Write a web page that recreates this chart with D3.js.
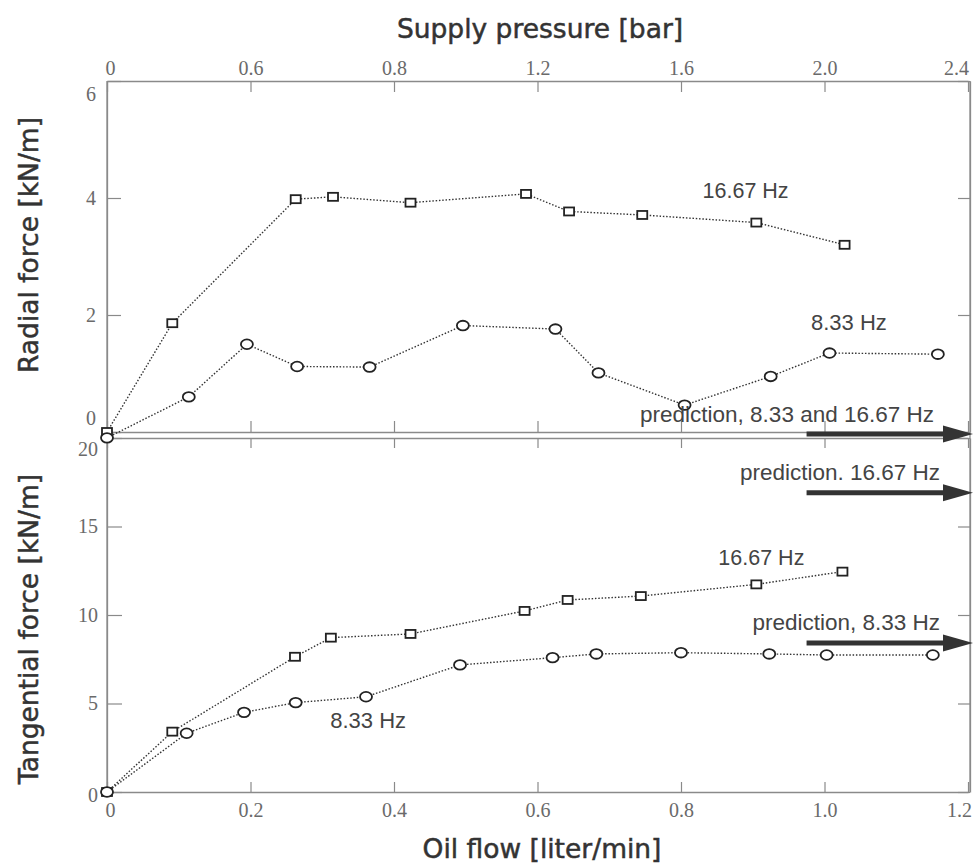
<!DOCTYPE html>
<html>
<head>
<meta charset="utf-8">
<script src="https://cdn.jsdelivr.net/npm/d3@7"></script>
<style>
  body { margin: 0; background: #fff; }
  svg { display: block; }
</style>
</head>
<body>
<svg id="chart" width="975" height="866"></svg>
<script>
// ---- Measured data --------------------------------------------------------
// Radial force [kN/m] vs oil flow [liter/min]
const radialFlow167 = [0, 0.091, 0.263, 0.315, 0.423, 0.584, 0.644, 0.746, 0.905, 1.028];
const radial167     = [0, 1.86, 3.98, 4.02, 3.92, 4.07, 3.77, 3.71, 3.58, 3.20];
const radialFlow833 = [0, 0.114, 0.195, 0.265, 0.366, 0.496, 0.625, 0.685, 0.805, 0.925, 1.007, 1.158];
const radial833     = [-0.10, 0.60, 1.50, 1.12, 1.11, 1.82, 1.76, 1.01, 0.46, 0.95, 1.35, 1.33];

// Tangential force [kN/m] vs oil flow [liter/min]
const tangFlow167 = [0, 0.091, 0.262, 0.312, 0.423, 0.582, 0.642, 0.744, 0.905, 1.025];
const tang167     = [0, 3.41, 7.64, 8.72, 8.93, 10.23, 10.85, 11.07, 11.73, 12.45];
const tangFlow833 = [0, 0.111, 0.191, 0.263, 0.361, 0.492, 0.621, 0.682, 0.800, 0.923, 1.003, 1.151];
const tang833     = [0, 3.32, 4.50, 5.05, 5.38, 7.18, 7.59, 7.80, 7.87, 7.80, 7.74, 7.74];

// Predicted force levels (drawn as arrows at the right edge)
const radialPredictionLabels = ["prediction, 8.33 and 16.67 Hz"];
const radialPredictionValues = [0];
const tangPredictionLabels = ["prediction. 16.67 Hz", "prediction, 8.33 Hz"];
const tangPredictionValues = [16.9, 8.42];
const predictionStartFlow = 0.975;

// ---- Axis ticks -----------------------------------------------------------
const flowTicks      = [0, 0.2, 0.4, 0.6, 0.8, 1.0, 1.2];
const flowLabels     = ["0", "0.2", "0.4", "0.6", "0.8", "1.0", "1.2"];
const pressureLabels = ["0", "0.6", "0.8", "1.2", "1.6", "2.0", "2.4"];
const radialTicks    = [0, 2, 4, 6];
const tangTicks      = [0, 5, 10, 15, 20];

// ---- Layout ---------------------------------------------------------------
const svg = d3.select("#chart");
const left = 107, right = 970;
const x  = d3.scaleLinear([0, 1.2], [left, 968]);
const yR = d3.scaleLinear([0, 6], [432, 81]);
const yT = d3.scaleLinear([0, 20], [792, 438]);

const axisColor = "#8a8a8a";
const tickFont = "'Liberation Serif', 'Times New Roman', serif";
const sansFont = "'Liberation Sans', Arial, sans-serif";
const titleFont = "'DejaVu Sans', Verdana, sans-serif";

function styleAxis(g, showText) {
  g.select(".domain").attr("stroke", axisColor).attr("stroke-width", 1.3);
  g.selectAll(".tick line").attr("stroke", axisColor).attr("stroke-width", 1.2);
  g.selectAll(".tick text")
    .attr("fill", "#6a6a6a")
    .style("font-family", tickFont)
    .style("font-size", "20px");
  if (!showText) g.selectAll(".tick text").remove();
}

// Top axis: supply pressure, labelled at the same positions as the flow ticks
const gTop = svg.append("g").attr("transform", `translate(0,${yR(6)})`)
  .call(d3.axisTop(x).tickValues(flowTicks)
    .tickFormat((d, i) => pressureLabels[i]).tickSize(-11).tickSizeOuter(0));
styleAxis(gTop, true);
gTop.selectAll(".tick text").attr("y", -6).attr("dy", null);
gTop.selectAll(".tick text").filter((d, i) => i === flowTicks.length - 1).attr("dx", -12);
gTop.selectAll(".tick text").filter((d, i) => i === 0).attr("dx", 3);

// Bottom of the radial panel
const gMidA = svg.append("g").attr("transform", `translate(0,${yR(0)})`)
  .call(d3.axisBottom(x).tickValues(flowTicks).tickSize(-11).tickSizeOuter(0));
styleAxis(gMidA, false);

// Top of the tangential panel
const gMidB = svg.append("g").attr("transform", `translate(0,${yT(20)})`)
  .call(d3.axisTop(x).tickValues(flowTicks).tickSize(-10).tickSizeOuter(0));
styleAxis(gMidB, false);

// Bottom axis: oil flow
const gBot = svg.append("g").attr("transform", `translate(0,${yT(0)})`)
  .call(d3.axisBottom(x).tickValues(flowTicks)
    .tickFormat((d, i) => flowLabels[i]).tickSize(-10).tickSizeOuter(0));
styleAxis(gBot, true);
gBot.selectAll(".tick text").attr("y", 25).attr("dy", null);
gBot.selectAll(".tick text").filter((d, i) => i === flowTicks.length - 1).attr("dx", -9);
gBot.selectAll(".tick text").filter((d, i) => i === 0).attr("dx", 3);

// Left axes
const gLeftR = svg.append("g").attr("transform", `translate(${left},0)`)
  .call(d3.axisLeft(yR).tickValues(radialTicks).tickFormat(d3.format("d"))
    .tickSize(-14).tickSizeOuter(0));
styleAxis(gLeftR, true);
gLeftR.selectAll(".tick text").attr("x", -11);
gLeftR.selectAll(".tick text").filter(d => d === 6).attr("dy", "0.95em");
gLeftR.selectAll(".tick text").filter(d => d === 0).attr("dy", "-0.4em");

const gLeftT = svg.append("g").attr("transform", `translate(${left},0)`)
  .call(d3.axisLeft(yT).tickValues(tangTicks).tickFormat(d3.format("d"))
    .tickSize(-15).tickSizeOuter(0));
styleAxis(gLeftT, true);
gLeftT.selectAll(".tick text").attr("x", -9);
gLeftT.selectAll(".tick text").filter(d => d === 20).attr("dy", "0.85em");
gLeftT.selectAll(".tick text").filter(d => d === 0).attr("dy", "0.45em");

// Right axes (ticks only)
const gRightR = svg.append("g").attr("transform", `translate(${right},0)`)
  .call(d3.axisRight(yR).tickValues(radialTicks).tickSize(-12).tickSizeOuter(0));
styleAxis(gRightR, false);
const gRightT = svg.append("g").attr("transform", `translate(${right},0)`)
  .call(d3.axisRight(yT).tickValues(tangTicks).tickSize(-12).tickSizeOuter(0));
styleAxis(gRightT, false);

// Join the frame between the two panels
svg.append("line").attr("x1", left).attr("x2", left)
  .attr("y1", yR(6)).attr("y2", yT(0))
  .attr("stroke", axisColor).attr("stroke-width", 1.3);
svg.append("line").attr("x1", right).attr("x2", right)
  .attr("y1", yR(6)).attr("y2", yT(0))
  .attr("stroke", axisColor).attr("stroke-width", 1.3);

// ---- Series ---------------------------------------------------------------
function drawSeries(xs, ys, yScale, shape) {
  const pts = xs.map((f, i) => [x(f), yScale(ys[i])]);
  svg.append("path")
    .attr("d", d3.line()(pts))
    .attr("fill", "none")
    .attr("stroke", "#333")
    .attr("stroke-width", 1.4)
    .attr("stroke-dasharray", "1.5,1.8");
  const g = svg.append("g");
  if (shape === "square") {
    g.selectAll("rect").data(pts).join("rect")
      .attr("x", d => d[0] - 5).attr("y", d => d[1] - 4)
      .attr("width", 10).attr("height", 8)
      .attr("fill", "#fff").attr("stroke", "#222").attr("stroke-width", 1.8);
  } else {
    g.selectAll("ellipse").data(pts).join("ellipse")
      .attr("cx", d => d[0]).attr("cy", d => d[1])
      .attr("rx", 6).attr("ry", 4.8)
      .attr("fill", "#fff").attr("stroke", "#222").attr("stroke-width", 1.8);
  }
}

drawSeries(radialFlow167, radial167, yR, "square");
drawSeries(radialFlow833, radial833, yR, "circle");
drawSeries(tangFlow167, tang167, yT, "square");
drawSeries(tangFlow833, tang833, yT, "circle");

// ---- Prediction arrows ----------------------------------------------------
function drawArrow(yPos) {
  const x0 = x(predictionStartFlow), tip = right + 3, headLen = 30, half = 8.5;
  svg.append("line")
    .attr("x1", x0).attr("x2", tip - headLen + 2)
    .attr("y1", yPos).attr("y2", yPos)
    .attr("stroke", "#333").attr("stroke-width", 5);
  svg.append("path")
    .attr("d", `M${tip},${yPos} L${tip - headLen},${yPos - half} L${tip - headLen},${yPos + half} Z`)
    .attr("fill", "#333");
}
function drawText(txt, xPos, yPos, anchor, size) {
  svg.append("text")
    .attr("x", xPos).attr("y", yPos)
    .attr("text-anchor", anchor)
    .attr("fill", "#444")
    .style("font-family", sansFont)
    .style("font-size", (size || 21) + "px")
    .text(txt);
}

radialPredictionValues.forEach((v, i) => {
  drawArrow(yR(v) + 2);
  drawText(radialPredictionLabels[i], 934, yR(v) - 10, "end", 22.5);
});
const tangTextOffsets = [-13, -13];
tangPredictionValues.forEach((v, i) => {
  drawArrow(yT(v));
  drawText(tangPredictionLabels[i], 940, yT(v) + tangTextOffsets[i], "end", 22.5);
});

// ---- Series labels --------------------------------------------------------
drawText("16.67 Hz", x(0.89), yR(4.0), "middle", 21.5);
drawText("8.33 Hz", x(1.034), yR(1.75), "middle", 22);
drawText("16.67 Hz", x(0.912), yT(12.8), "middle", 21.5);
drawText("8.33 Hz", x(0.364), yT(3.6), "middle", 22);

// ---- Axis titles ----------------------------------------------------------
function title(txt, xPos, yPos, rotate) {
  const t = svg.append("text")
    .attr("text-anchor", "middle")
    .attr("fill", "#333")
    .attr("stroke", "#333")
    .attr("stroke-width", 0.5)
    .style("font-family", titleFont)
    .style("font-size", "26.5px")
    .text(txt);
  if (rotate) t.attr("transform", `translate(${xPos},${yPos}) rotate(-90)`);
  else t.attr("x", xPos).attr("y", yPos);
}
title("Supply pressure [bar]", 540, 38, false);
title("Oil flow [liter/min]", 542, 858, false);
title("Radial force [kN/m]", 38, 245, true);
title("Tangential force [kN/m]", 38, 629, true);
</script>
</body>
</html>
